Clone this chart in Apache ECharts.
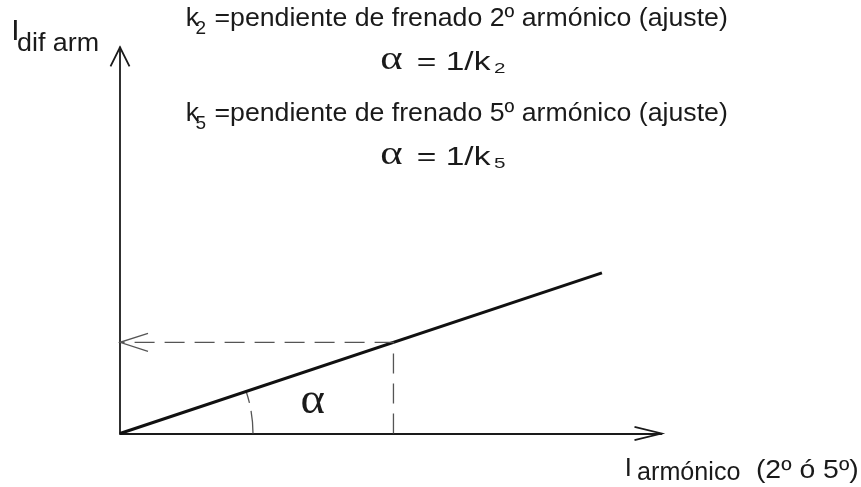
<!DOCTYPE html>
<html>
<head>
<meta charset="utf-8">
<script src="https://cdn.jsdelivr.net/npm/echarts@6/dist/echarts.min.js"></script>
<style>
  html, body { margin: 0; padding: 0; background: #fff; }
  #chart { width: 861px; height: 487px; }
</style>
</head>
<body>
<div id="chart"></div>
<script>
// Axis extents (arbitrary units, no tick labels drawn)
const xRange = [0, 10];
const yRange = [0, 10];
// Restraint characteristic: straight line through the origin
const slopeLine = [[0, 0], [8.9, 4.16]];
// Point on the characteristic projected onto both axes
const operatingPoint = [5.05, 2.36];

const harmonicOrders = ['2', '5'];
const slopeDefinitions = [
  '=pendiente de frenado 2º armónico (ajuste)',
  '=pendiente de frenado 5º armónico (ajuste)'
];
const yAxisName = ['I', 'dif arm'];
const xAxisName = ['I', 'armónico', '(2º ó 5º)'];

const SANS = '"Liberation Sans", Arial, sans-serif';
const SERIF = '"Liberation Serif", "Times New Roman", serif';
const INK = '#1a1a1a';
const measureCtx = document.createElement('canvas').getContext('2d');

function measure(text, size, family) {
  measureCtx.font = size + 'px ' + family;
  return measureCtx.measureText(text);
}

function textEl(text, x, y, size, family, sx, sy) {
  return {
    type: 'text',
    silent: true,
    x: x,
    y: y,
    scaleX: sx,
    scaleY: sy,
    style: {
      text: text,
      fontSize: size,
      fontFamily: family,
      fill: INK,
      align: 'left',
      verticalAlign: 'middle'
    }
  };
}

// Text whose ink starts at `left` (and ends at `right` when given), on `baseline`
function span(text, left, right, baseline, size) {
  const m = measure(text, size, SANS);
  const ink = m.actualBoundingBoxLeft + m.actualBoundingBoxRight;
  const sx = right != null ? (right - left) / ink : 1;
  return textEl(text, left + m.actualBoundingBoxLeft * sx, baseline - 0.3465 * size, size, SANS, sx, 1);
}

// Single glyph stretched to fill the box [left,right] x [top,bottom]
function glyphBox(text, left, right, top, bottom, size, family) {
  const m = measure(text, size, family);
  const sx = (right - left) / (m.actualBoundingBoxLeft + m.actualBoundingBoxRight);
  const sy = (bottom - top) / (m.actualBoundingBoxAscent + m.actualBoundingBoxDescent);
  const mid = 0.3465 * size; // alphabetic baseline below the 'middle' line
  return textEl(text,
    left + m.actualBoundingBoxLeft * sx,
    top - (mid - m.actualBoundingBoxAscent) * sy,
    size, family, sx, sy);
}

const texts = [];
// slope definitions and the angle formulas under each
[0, 1].forEach(function (i) {
  const b = 28 + i * 95.3;
  const f = 72 + i * 94.7;
  texts.push(span('k', 186.7, null, b, 26.5));
  texts.push(span(harmonicOrders[i], 195.5, null, b + 7, 19));
  texts.push(span(slopeDefinitions[i], 215.5, 727, b, 26.5));
  texts.push(glyphBox('α', 381.7, 403, f - 16, f, 30, SERIF));
  texts.push(span('= 1/k', 418, 491.7, f, 26));
  texts.push(span(harmonicOrders[i], 494, 505, f + 2.5, 15));
});
// axis names
texts.push(span(yAxisName[0], 13.3, null, 41.7, 30));
texts.push(span(yAxisName[1], 18, 98, 52.7, 26.5));
texts.push(span(xAxisName[0], 626.7, null, 478.3, 25.6));
texts.push(span(xAxisName[1], 638, 740, 481.7, 26));
texts.push(span(xAxisName[2], 757, 858, 479.5, 26));
// angle label
texts.push(glyphBox('α', 301.7, 325, 395, 416.7, 40, SERIF));

// Open arrowheads on the axes and on the projection, plus the angle arc
function renderDecor(params, api) {
  const o = api.coord([xRange[0], yRange[0]]);
  const xEnd = api.coord([xRange[1], yRange[0]]);
  const yEnd = api.coord([xRange[0], yRange[1]]);
  const guideEnd = api.coord([xRange[0], operatingPoint[1]]);
  const lineEnd = api.coord(slopeLine[1]);
  const theta = Math.atan2(o[1] - lineEnd[1], lineEnd[0] - o[0]);
  const axisStyle = { stroke: INK, lineWidth: 1.8, fill: null };
  const guideStyle = { stroke: '#555', lineWidth: 1.3, fill: null };
  return {
    type: 'group',
    children: [
      { type: 'polyline', shape: { points: [[yEnd[0] - 9.5, yEnd[1] + 19], yEnd, [yEnd[0] + 9.5, yEnd[1] + 19]] }, style: axisStyle },
      { type: 'polyline', shape: { points: [[xEnd[0] - 27, xEnd[1] - 6.7], xEnd, [xEnd[0] - 27, xEnd[1] + 6.7]] }, style: axisStyle },
      { type: 'polyline', shape: { points: [[guideEnd[0] + 28, guideEnd[1] - 9], guideEnd, [guideEnd[0] + 28, guideEnd[1] + 9]] }, style: guideStyle },
      {
        type: 'arc',
        shape: { cx: o[0], cy: o[1], r: 133, startAngle: -theta, endAngle: 0, clockwise: true },
        style: Object.assign({}, guideStyle, { lineDash: [12, 8, 24, 8] })
      }
    ]
  };
}

const chart = echarts.init(document.getElementById('chart'), null, { renderer: 'canvas' });
const hiddenAxis = function (range) {
  return {
    type: 'value',
    min: range[0],
    max: range[1],
    axisLine: { show: true, lineStyle: { color: INK, width: 1.8 } },
    axisTick: { show: false },
    axisLabel: { show: false },
    splitLine: { show: false }
  };
};

chart.setOption({
  animation: false,
  backgroundColor: '#fff',
  grid: { left: 120, right: 199.5, top: 47.3, bottom: 53.5 },
  xAxis: hiddenAxis(xRange),
  yAxis: hiddenAxis(yRange),
  series: [
    {
      name: 'pendiente',
      type: 'line',
      data: slopeLine,
      symbol: 'none',
      clip: false,
      lineStyle: { color: '#111', width: 3 }
    },
    {
      name: 'proyección',
      type: 'line',
      data: [[operatingPoint[0], yRange[0]], operatingPoint, [xRange[0], operatingPoint[1]]],
      symbol: 'none',
      clip: false,
      lineStyle: { color: '#555', width: 1.3, type: [20, 10] }
    },
    {
      type: 'custom',
      data: [[0, 0]],
      renderItem: renderDecor,
      silent: true,
      clip: false
    }
  ],
  graphic: texts
});
</script>
</body>
</html>
